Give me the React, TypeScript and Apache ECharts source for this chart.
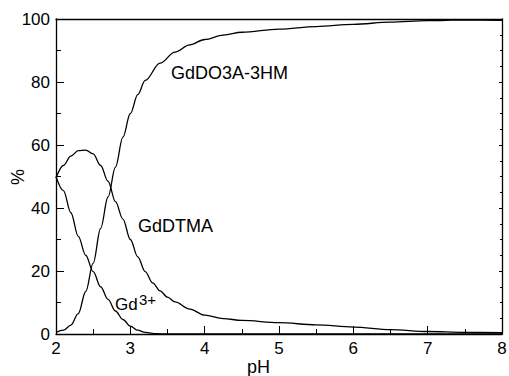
import React, { useEffect, useRef } from "react";
import * as echarts from "echarts";

const xTicks = [2, 3, 4, 5, 6, 7, 8];
const yTicks = [0, 20, 40, 60, 80, 100];

const gdPH = [2.0, 2.1, 2.2, 2.3, 2.4, 2.5, 2.6, 2.7, 2.8, 2.9, 3.0, 3.1, 3.2, 3.35, 3.5, 4.0, 5.0, 6.0, 7.0, 8.0];
const gdVal = [50, 45.5, 38.5, 31, 25, 19.8, 15, 11, 7.3, 4.6, 2.5, 1.2, 0.5, 0.1, 0, 0, 0, 0, 0, 0];

const dtmaPH = [2.0, 2.1, 2.2, 2.3, 2.4, 2.5, 2.6, 2.7, 2.8, 2.9, 3.0, 3.1, 3.2, 3.3, 3.4, 3.5, 3.6, 3.8, 4.0, 4.25, 4.5, 5.0, 5.5, 6.0, 6.5, 7.0, 7.5, 8.0];
const dtmaVal = [49.5, 53.5, 56.5, 58.2, 58.4, 57.2, 53.5, 48.5, 42, 36.5, 30, 24.5, 19.8, 16.2, 13.7, 11.7, 10.2, 7.9, 6.0, 4.9, 4.3, 3.6, 2.9, 2.2, 1.4, 0.8, 0.5, 0.4];

const do3aPH = [2.0, 2.1, 2.2, 2.3, 2.4, 2.5, 2.6, 2.7, 2.8, 2.9, 3.0, 3.1, 3.2, 3.4, 3.6, 3.8, 4.0, 4.25, 4.5, 5.0, 5.5, 6.0, 6.5, 7.0, 7.5, 8.0];
const do3aVal = [0.5, 1.2, 2.8, 6.5, 13.5, 22.5, 33.5, 43.5, 53, 62.5, 70, 76, 80.5, 86, 89.5, 91.8, 93.5, 94.9, 95.8, 96.8, 97.6, 98.3, 99, 99.5, 99.7, 99.6];

const seriesLabels = ["GdDO3A-3HM", "GdDTMA", "Gd", "3+"];

const pairs = (xs: number[], ys: number[]) => xs.map((x, i) => [x, ys[i]]);

export default function App() {
  const ref = useRef<HTMLDivElement>(null);
  useEffect(() => {
    if (!ref.current) return;
    const chart = echarts.init(ref.current, null, { renderer: "svg" });
    const font = "Liberation Sans, Arial, sans-serif";
    const lineStyle = { color: "#000", width: 1.3 };
    const mkSeries = (data: number[][]) => ({
      type: "line",
      data,
      smooth: 0.35,
      smoothMonotone: "x",
      showSymbol: false,
      symbol: "none",
      lineStyle,
      xAxisIndex: 0,
      yAxisIndex: 0,
    });
    const baseAxis = {
      axisLine: { show: true, onZero: false, lineStyle: { color: "#000", width: 1.3 } },
      splitLine: { show: false },
    };
    chart.setOption({
      animation: false,
      backgroundColor: "#fff",
      grid: { left: 56, right: 7, top: 19, bottom: 42, containLabel: false, outerBoundsMode: "none" },
      xAxis: [
        {
          ...baseAxis,
          type: "value",
          min: 2,
          max: 8,
          interval: 1,
          position: "bottom",
          axisTick: { show: true, inside: true, length: 8, lineStyle: { color: "#000" } },
          minorTick: { show: true, splitNumber: 2, length: 5, lineStyle: { color: "#000" } },
          axisLabel: {
            color: "#000",
            fontSize: 17,
            fontFamily: font,
            margin: 6,
            formatter: (v: number) => (xTicks.includes(v) ? String(v) : ""),
          },
        },
        {
          ...baseAxis,
          type: "value",
          min: 2,
          max: 8,
          interval: 1,
          position: "top",
          axisTick: { show: false },
          axisLabel: { show: false },
        },
      ],
      yAxis: [
        {
          ...baseAxis,
          type: "value",
          min: 0,
          max: 100,
          interval: 20,
          position: "left",
          axisTick: { show: true, inside: true, length: 8, lineStyle: { color: "#000" } },
          minorTick: { show: true, splitNumber: 2, length: 5, lineStyle: { color: "#000" } },
          axisLabel: {
            color: "#000",
            fontSize: 17,
            fontFamily: font,
            margin: 6,
            formatter: (v: number) => (yTicks.includes(v) ? String(v) : ""),
          },
        },
        {
          ...baseAxis,
          type: "value",
          min: 0,
          max: 100,
          interval: 20,
          position: "right",
          axisTick: { show: true, inside: true, length: 3, lineStyle: { color: "#000" } },
          minorTick: { show: true, splitNumber: 4, length: 2, lineStyle: { color: "#000" } },
          axisLabel: { show: false },
        },
      ],
      series: [
        mkSeries(pairs(do3aPH, do3aVal)),
        mkSeries(pairs(dtmaPH, dtmaVal)),
        mkSeries(pairs(gdPH, gdVal)),
      ],
      graphic: [
        {
          type: "text",
          x: 18,
          y: 177,
          rotation: Math.PI / 2,
          style: {
            text: "%",
            fill: "#000",
            fontSize: 18,
            fontFamily: font,
            align: "center",
            verticalAlign: "middle",
          },
        },
        {
          type: "text",
          left: 247,
          top: 358,
          style: { text: "pH", fill: "#000", fontSize: 18, fontFamily: font },
        },
        {
          type: "text",
          left: 171,
          top: 64,
          style: { text: seriesLabels[0], fill: "#000", fontSize: 18, fontFamily: font },
        },
        {
          type: "text",
          left: 138,
          top: 217,
          style: { text: seriesLabels[1], fill: "#000", fontSize: 18, fontFamily: font },
        },
        {
          type: "text",
          left: 115,
          top: 296,
          style: { text: seriesLabels[2], fill: "#000", fontSize: 17, fontFamily: font },
        },
        {
          type: "text",
          left: 139,
          top: 292,
          style: { text: seriesLabels[3], fill: "#000", fontSize: 15, fontFamily: font },
        },
      ],
    });
    return () => chart.dispose();
  }, []);
  return <div ref={ref} style={{ width: 509, height: 376, position: "absolute", left: 0, top: 0 }} />;
}
